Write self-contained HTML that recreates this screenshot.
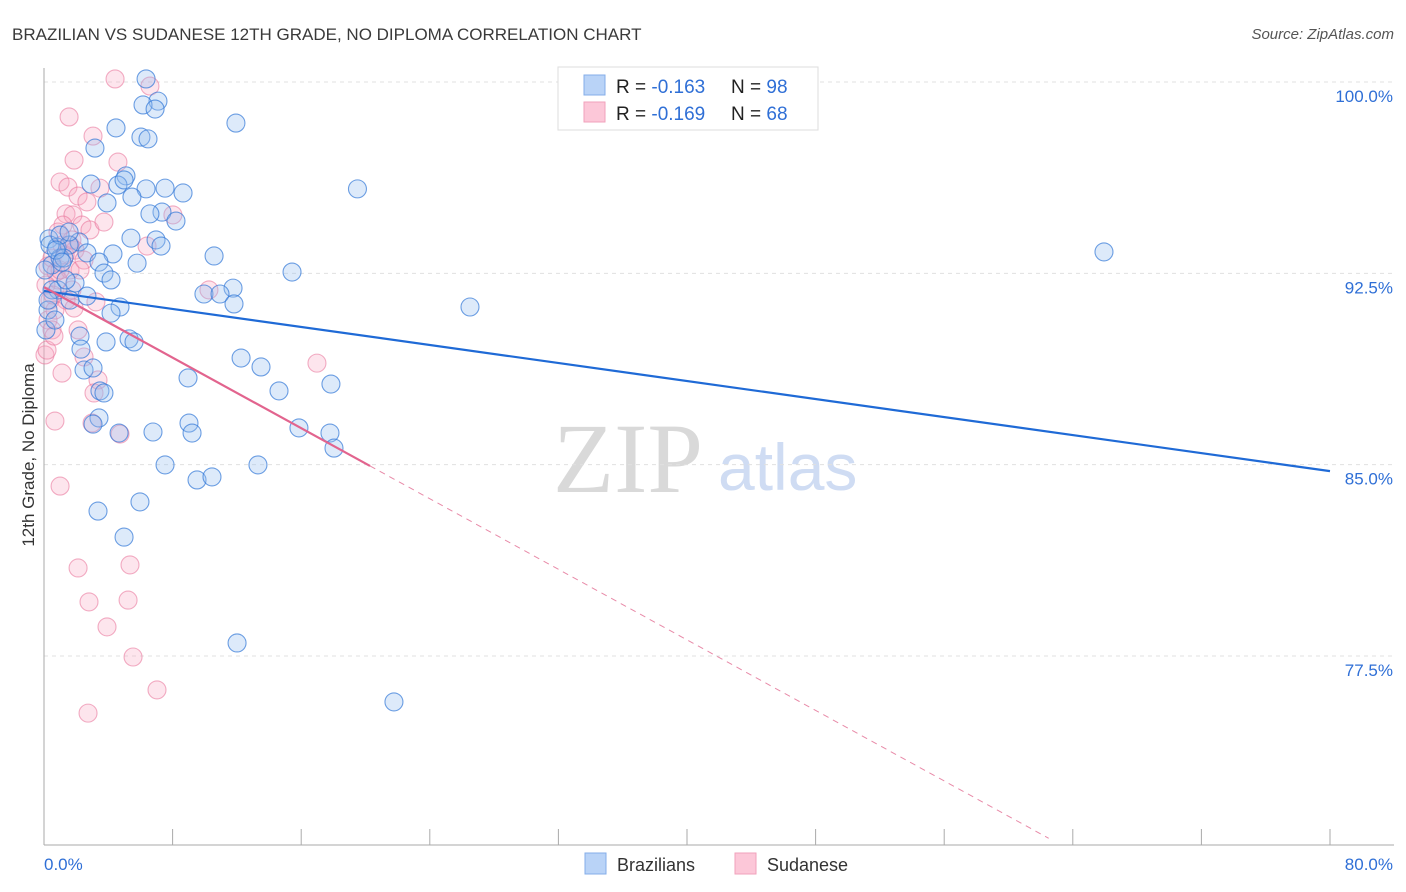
<!DOCTYPE html>
<html><head><meta charset="utf-8">
<style>
html,body{margin:0;padding:0;background:#fff;width:1406px;height:892px;overflow:hidden;font-family:"Liberation Sans",sans-serif;}
</style></head>
<body>
<svg id="chart" width="1406" height="892" viewBox="0 0 1406 892" xmlns="http://www.w3.org/2000/svg" font-family="Liberation Sans, sans-serif">
<text x="12" y="40" font-size="17" fill="#3a3a3a">BRAZILIAN VS SUDANESE 12TH GRADE, NO DIPLOMA CORRELATION CHART</text>
<text x="1394" y="39" font-size="15" fill="#555" text-anchor="end" font-style="italic">Source: ZipAtlas.com</text>
<g>
<text x="553" y="492" font-size="100" fill="#d9d9d9" style="font-family:'Liberation Serif',serif">ZIP</text>
<text x="718" y="490" font-size="66" fill="#cfdcf3">atlas</text>
</g>
<g id="grid"></g>
<g id="axes"></g>
<g id="pink-pts"></g>
<g id="blue-pts"></g>
<g id="lines"></g>
<text transform="translate(34,455) rotate(-90)" font-size="17" fill="#333" text-anchor="middle">12th Grade, No Diploma</text>
<g>
<rect x="558" y="67" width="260" height="63" fill="#fff" stroke="#ddd"/>
<rect x="584" y="75" width="21" height="20" fill="#b9d3f7" stroke="#84aee8"/>
<rect x="584" y="102" width="21" height="20" fill="#fcc7d8" stroke="#f1a2bb"/>
<text x="616" y="93" font-size="19" fill="#222">R = <tspan fill="#2f6fd6">-0.163</tspan><tspan x="731">N = </tspan><tspan fill="#2f6fd6">98</tspan></text>
<text x="616" y="120" font-size="19" fill="#222">R = <tspan fill="#2f6fd6">-0.169</tspan><tspan x="731">N = </tspan><tspan fill="#2f6fd6">68</tspan></text>
</g>
<g>
<rect x="585" y="853" width="21" height="21" fill="#b9d3f7" stroke="#84aee8"/>
<text x="617" y="871" font-size="18" fill="#333">Brazilians</text>
<rect x="735" y="853" width="21" height="21" fill="#fcc7d8" stroke="#f1a2bb"/>
<text x="767" y="871" font-size="18" fill="#333">Sudanese</text>
</g>
</svg>
<script>
const yTicks=[100,92.5,85,77.5];
const yTickLabels=["100.0%","92.5%","85.0%","77.5%"];
const xTicks=[0,8,16,24,32,40,48,56,64,72,80];
const xTickLabels=["0.0%","80.0%"];
const blueX=[6.35,7.09,6.16,6.91,11.94,4.48,6.03,6.47,3.17,5.10,2.92,4.60,4.98,6.35,7.53,8.65,19.5,3.92,5.47,7.34,6.59,8.21,0.31,2.18,5.41,6.97,7.28,0.81,1.56,2.67,4.29,10.58,65.94,5.79,3.42,3.73,4.17,15.43,11.76,9.95,10.95,11.82,4.73,26.5,4.17,0.50,1.00,0.87,1.93,2.67,2.24,2.30,3.86,5.29,5.60,12.26,13.50,8.96,14.62,17.85,2.49,3.05,3.48,3.73,9.02,3.42,3.05,6.78,4.67,9.21,15.86,17.79,18.04,7.53,13.31,9.52,10.45,5.97,3.36,4.98,12.01,21.77,0.12,0.25,0.50,1.37,1.62,1.24,0.37,0.06,0.68,1.00,1.56,0.25,0.75,1.12];
const blueY=[100.12,99.25,99.10,98.94,98.39,98.20,97.84,97.77,97.41,96.32,96.00,95.96,96.16,95.81,95.84,95.65,95.81,95.26,95.49,94.90,94.83,94.55,93.85,93.73,93.88,93.81,93.57,93.53,93.61,93.30,93.26,93.18,93.34,92.90,92.94,92.51,92.24,92.55,91.92,91.69,91.69,91.30,91.18,91.18,90.94,92.83,93.10,91.85,92.12,91.61,90.04,89.53,89.81,89.93,89.81,89.18,88.83,88.40,87.89,88.16,88.71,88.79,87.89,87.81,86.63,86.83,86.59,86.28,86.24,86.24,86.44,86.24,85.65,84.99,84.99,84.40,84.52,83.54,83.18,82.16,78.01,75.70,90.28,91.06,91.85,92.24,91.45,93.10,93.61,92.63,90.67,94.00,94.12,91.45,93.41,92.94];
const pinkX=[4.42,6.59,1.56,3.05,4.60,1.87,1.00,1.49,2.12,3.48,2.67,1.37,1.80,2.36,2.86,3.73,8.02,6.41,0.25,0.50,0.75,1.12,1.62,1.93,1.37,1.74,3.23,10.26,16.98,2.12,2.49,1.12,3.36,3.11,4.73,2.99,0.68,1.00,2.12,5.35,2.80,5.23,3.92,5.54,7.03,2.74,0.06,0.25,0.37,0.68,0.87,1.00,0.12,0.50,1.31,1.74,2.49,0.19,0.56,1.18,2.24,1.87,0.62,1.62,0.87];
const pinkY=[100.12,99.84,98.63,97.88,96.86,96.94,96.08,95.88,95.53,95.84,95.30,94.83,94.79,94.39,94.20,94.51,94.79,93.57,92.79,93.10,92.55,93.61,92.63,93.41,91.45,91.85,91.38,91.85,88.98,90.28,89.22,88.59,88.32,87.81,86.20,86.63,86.71,84.16,80.95,81.07,79.62,79.69,78.64,77.46,76.17,75.26,89.30,90.67,91.45,91.06,92.24,92.63,92.04,90.28,93.22,93.81,93.02,89.49,91.65,94.39,92.63,91.14,90.04,93.61,94.12];
const blueTrend=[91.81,-0.0883];
const pinkTrend=[91.96,-0.3457];
const pinkSolidEnd=20.28, pinkDashEnd=62.5;

const NS="http://www.w3.org/2000/svg";
const X0=44,X1=1330,Y100=82,PX_PER_PCT=25.51;
function sx(v){return X0+(v/80)*(X1-X0);}
function sy(v){return Y100+(100-v)*PX_PER_PCT;}
function mk(tag,attrs,parent){const e=document.createElementNS(NS,tag);for(const k in attrs)e.setAttribute(k,attrs[k]);parent.appendChild(e);return e;}

const grid=document.getElementById('grid');
yTicks.forEach((t,i)=>{
  const l=mk('line',{x1:X0,x2:1394,y1:sy(t),y2:sy(t),stroke:'#e0e0e0','stroke-dasharray':'4,4'},grid);
  
  
  const tx=mk('text',{x:1393,y:sy(t)+20,'font-size':17,fill:'#2f6fd6','text-anchor':'end'},grid);
  
  
  tx.textContent=yTickLabels[i];
});
const axes=document.getElementById('axes');
const ya=mk('line',{x1:X0,x2:X0,y1:68,y2:845,stroke:'#aaa'},axes);


const xa=mk('line',{x1:X0,x2:1394,y1:845,y2:845,stroke:'#aaa'},axes);


xTicks.forEach(t=>{
  const l=mk('line',{x1:sx(t),x2:sx(t),y1:829,y2:845,stroke:'#aaa'},axes);
  
  
});
const xl0=mk('text',{x:44,y:870,'font-size':17,fill:'#2f6fd6'},axes);


xl0.textContent=xTickLabels[0];
const xl1=mk('text',{x:1393,y:870,'font-size':17,fill:'#2f6fd6','text-anchor':'end'},axes);


xl1.textContent=xTickLabels[1];

const pp=document.getElementById('pink-pts');
pinkX.forEach((x,i)=>{
  const c=mk('circle',{cx:sx(x),cy:sy(pinkY[i]),r:9,fill:'rgba(248,168,196,0.3)',stroke:'rgba(232,110,150,0.55)','stroke-width':1.1},pp);
  
  
});
const bp=document.getElementById('blue-pts');
blueX.forEach((x,i)=>{
  const c=mk('circle',{cx:sx(x),cy:sy(blueY[i]),r:9,fill:'rgba(150,190,240,0.32)',stroke:'rgba(50,120,215,0.7)','stroke-width':1.1},bp);
  
  
});
const ln=document.getElementById('lines');
const bl=mk('line',{x1:sx(0),y1:sy(blueTrend[0]),x2:sx(80),y2:sy(blueTrend[0]+blueTrend[1]*80),stroke:'#1f6ad6','stroke-width':2.2},ln);


const pl=mk('line',{x1:sx(0),y1:sy(pinkTrend[0]),x2:sx(pinkSolidEnd),y2:sy(pinkTrend[0]+pinkTrend[1]*pinkSolidEnd),stroke:'#e2648e','stroke-width':2.2},ln);


const pd=mk('line',{x1:sx(pinkSolidEnd),y1:sy(pinkTrend[0]+pinkTrend[1]*pinkSolidEnd),x2:sx(pinkDashEnd),y2:sy(pinkTrend[0]+pinkTrend[1]*pinkDashEnd),stroke:'#e88aa8','stroke-width':1,'stroke-dasharray':'6,5'},ln);


</script>
</body></html>
